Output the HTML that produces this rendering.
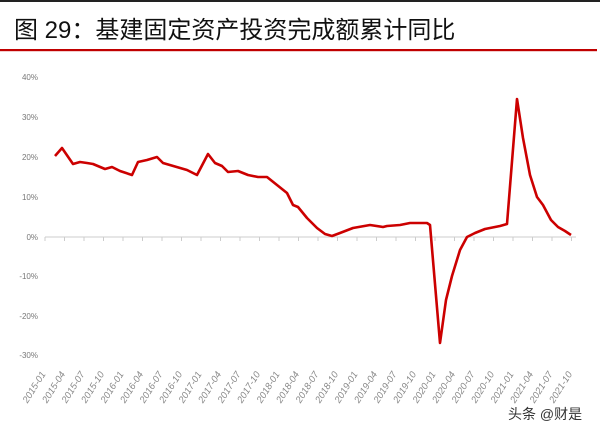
<!DOCTYPE html>
<html><head><meta charset="utf-8"><style>
body{margin:0;background:#fff;width:600px;height:430px;overflow:hidden;font-family:"Liberation Sans","Noto Sans CJK SC",sans-serif}
</style></head><body>
<svg width="600" height="430" xmlns="http://www.w3.org/2000/svg" style="position:absolute;left:0;top:0">
<rect x="0" y="0" width="600" height="2" fill="#222"/>
<text x="14" y="38" font-size="24" fill="#111" font-family="Liberation Sans,Noto Sans CJK SC,sans-serif">图 29：基建固定资产投资完成额累计同比</text>
<rect x="0" y="49" width="597" height="2.2" fill="#c00000"/>
<g font-size="8" fill="#777" text-anchor="end">
<text x="38" y="80">40%</text><text x="38" y="120">30%</text><text x="38" y="160">20%</text>
<text x="38" y="200">10%</text><text x="38" y="240">0%</text><text x="38" y="279">-10%</text>
<text x="38" y="319">-20%</text><text x="38" y="358">-30%</text>
</g>
<line x1="45" y1="237" x2="576" y2="237" stroke="#ccc" stroke-width="1"/>
<g stroke="#ccc" stroke-width="1" id="ticks"></g>
<g id="lbl" font-size="9.5" fill="#888" font-style="italic"></g>
<polyline fill="none" stroke="#cc0000" stroke-width="2.6" stroke-linejoin="round" points="55,156 62,148 73,164 80,162 87,163 93,164 105,169 112,167 120,171 132,175 138,162 147,160 157,157 163,163 187,170 197,175 208,154 215,163 222,166 228,172 238,171 248,175 258,177 267,177 277,185 287,193 293,205 298,207 307,218 317,228 325,234 332,236 340,233 353,228 370,225 383,227 387,226 400,225 410,223 427,223 430,225 440,343 446,300 452,276 460,250 467,237 475,233 485,229 495,227 500,226 507,224 517,99 523,138 530,175 537,197 543,205 551,220 558,227 565,231 571,235"/>
<text x="508" y="419" font-size="14" fill="#333">头条 @财是</text>
</svg>
<script>
var t=document.getElementById('ticks'),l=document.getElementById('lbl'),ns='http://www.w3.org/2000/svg';
var labs=[];for(var y=2015;y<=2021;y++){['01','04','07','10'].forEach(function(m){labs.push(y+'-'+m)})}
for(var i=0;i<28;i++){var x=45+i*19.5;
var ln=document.createElementNS(ns,'line');ln.setAttribute('x1',x);ln.setAttribute('x2',x);ln.setAttribute('y1',237);ln.setAttribute('y2',241);t.appendChild(ln);
var tx=document.createElementNS(ns,'text');tx.setAttribute('text-anchor','end');tx.setAttribute('transform','translate('+(x+1)+',374) rotate(-58)');tx.textContent=labs[i];l.appendChild(tx);}
</script>
</body></html>
